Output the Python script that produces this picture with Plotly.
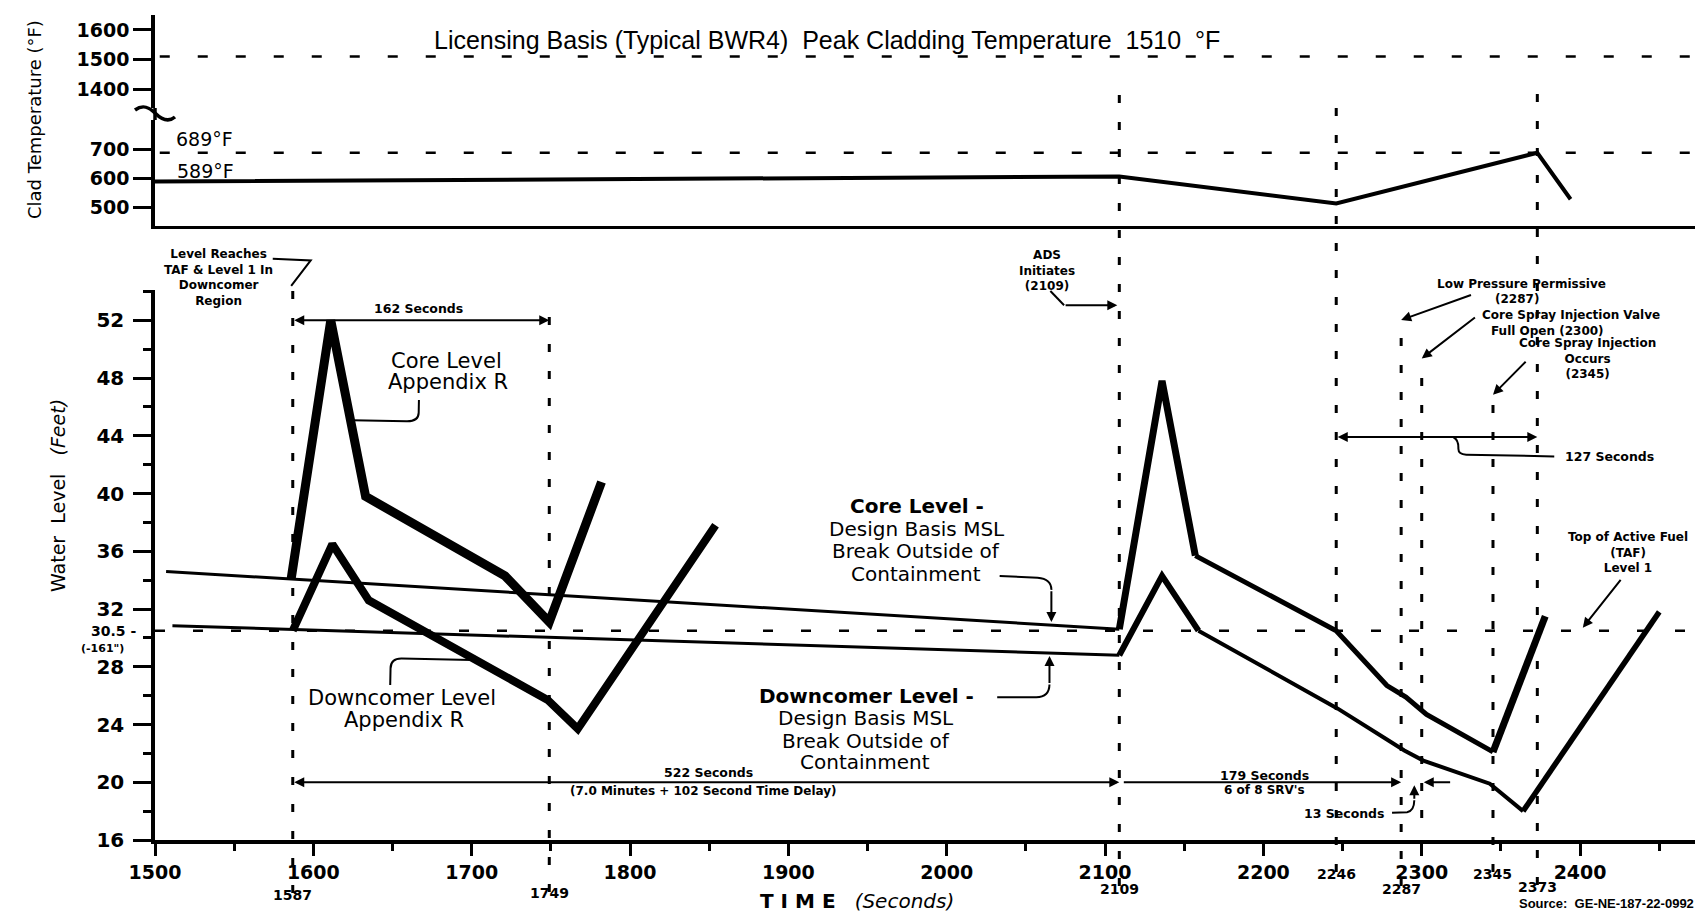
import numpy as np
import plotly.graph_objects as go

# ---------------- data ----------------
time_ticks = [1500, 1600, 1700, 1800, 1900, 2000, 2100, 2200, 2300, 2400]
level_ticks = [16, 20, 24, 28, 32, 36, 40, 44, 48, 52]
temp_ticks_low = [500, 600, 700]
temp_ticks_high = [1400, 1500, 1600]

# Water level - Appendix R (thick curves)
core_appR_t = [1586, 1611, 1633, 1721, 1749, 1782]
core_appR_v = [34.1, 52.0, 39.8, 34.3, 31.1, 40.8]
dc_appR_t = [1587, 1612, 1635, 1748, 1767, 1854]
dc_appR_v = [30.5, 36.5, 32.6, 25.7, 23.7, 37.8]

# Water level - Design Basis MSL break outside containment
core_db_t = [1507, 2109, 2136, 2157, 2246, 2278, 2290, 2303, 2345, 2378]
core_db_v = [34.6, 30.6, 47.8, 35.7, 30.5, 26.7, 25.9, 24.7, 22.1, 31.5]
dc_db_t = [1511, 2109, 2136, 2159, 2247, 2276, 2289, 2301, 2343, 2364, 2450]
dc_db_v = [30.85, 28.8, 34.3, 30.5, 25.1, 23.1, 22.2, 21.5, 19.9, 18.0, 31.8]

taf_level = 30.5

# Clad temperature (deg F)
clad_t = [1500, 1785, 2109, 2246, 2373, 2394]
clad_v = [589, 598, 606, 512, 689, 527]
pct_licensing = 1510
pct_appR = 689

event_t = [1587, 1749, 2109, 2246, 2287, 2300, 2345, 2373]

# ---------------- geometry helpers ----------------
W, H = 1703, 911
L, R, T, B = 147, 1694, 7, 832
XR = [1500, 2477]
YR = [16, 54.1]
Y_BOT_TOP = 282
TOP_LOW = (112, 218)     # pixel extent of lower part of broken temp axis
TOP_HIGH = (7, 100)      # pixel extent of upper part
Y2R = [433.8, 803.1]
Y3R = [1335.6, 1650.8]
SK = 0.02                # rotation of the scanned reference
SB, STOP = 837.0, 284.7  # reference frame: bottom axis / top of level axis


def t2px(t):
    return L + (t - XR[0]) * (R - L) / (XR[1] - XR[0])


def px2t(px):
    return XR[0] + (px - L) * (XR[1] - XR[0]) / (R - L)


def v2py(v):
    return B - (v - YR[0]) * (B - Y_BOT_TOP) / (YR[1] - YR[0])


def temp2py(v):
    return TOP_LOW[1] - (v - Y2R[0]) * (TOP_LOW[1] - TOP_LOW[0]) / (Y2R[1] - Y2R[0])


def PX(px):
    return (px - L) / (R - L)


def PY(py):
    return (B - py) / (B - T)


def D(px, py):
    """reference scan position -> position in this figure"""
    x = px + SK * (SB - py)
    y = py + SK * (px - L)
    if y > STOP:
        y = Y_BOT_TOP + (y - STOP) * (B - Y_BOT_TOP) / (SB - STOP)
    elif y > TOP_LOW[1]:
        y = TOP_LOW[1] + (y - TOP_LOW[1]) * (Y_BOT_TOP - TOP_LOW[1]) / (STOP - TOP_LOW[1])
    return x, y


SANS = "DejaVu Sans"
ann = []
shapes = []


def text(s, px, py, size=12, ds=True, xanchor="center", yanchor="middle",
         family=SANS, angle=0, align="center"):
    if ds:
        px, py = D(px, py)
    ann.append(dict(x=PX(px), y=PY(py), xref="paper", yref="paper", text=s,
                    showarrow=False, xanchor=xanchor, yanchor=yanchor,
                    textangle=angle, align=align,
                    font=dict(family=family, size=size, color="black")))


def pstr(p, ds=True):
    x, y = D(*p) if ds else p
    return f"{PX(x):.5f},{PY(y):.5f}"


def leader(cmds, width=2, ds=True):
    s = " ".join(op + " " + " ".join(pstr(p, ds) for p in pts) for op, pts in cmds)
    shapes.append(dict(type="path", path=s, xref="paper", yref="paper",
                       line=dict(color="black", width=width)))


def arrow(head, tail, both=False, width=2, size=1.0):
    hx, hy = head
    tx, ty = tail
    ann.append(dict(x=PX(hx), y=PY(hy), xref="paper", yref="paper",
                    ax=tx - hx, ay=ty - hy, axref="pixel", ayref="pixel",
                    text="", showarrow=True, arrowhead=2, arrowsize=size,
                    arrowwidth=width, arrowcolor="black", standoff=0,
                    startstandoff=0, startarrowhead=2, startarrowsize=size,
                    arrowside="end+start" if both else "end",
                    font=dict(size=1)))


# ---------------- traces ----------------
fig = go.Figure()


def add_line(x, y, width, xa="x", ya="y", dash=None):
    fig.add_trace(go.Scatter(x=x, y=y, mode="lines", xaxis=xa, yaxis=ya,
                             line=dict(color="black", width=width, dash=dash),
                             hoverinfo="skip", showlegend=False))


def add_segments(ts, vs, segs):
    for i0, i1, w in segs:
        add_line(ts[i0:i1 + 1], vs[i0:i1 + 1], w)


DASH_H = "10px,28px"
# bottom panel
add_line(XR, [taf_level, taf_level], 2.5, dash=DASH_H)
add_segments(core_db_t, core_db_v, [(0, 1, 3), (1, 3, 7), (3, 8, 5), (8, 9, 7)])
add_segments(dc_db_t, dc_db_v, [(0, 1, 3), (1, 3, 6), (3, 9, 4), (9, 10, 5.5)])
add_line(core_appR_t, core_appR_v, 9)
add_line(dc_appR_t, dc_appR_v, 8)

# top panel
add_line([1503, XR[1]], [pct_licensing, pct_licensing], 2.5, "x2", "y3", DASH_H)
add_line([1503, XR[1]], [pct_appR, pct_appR], 2.5, "x2", "y2", DASH_H)
add_line(clad_t, clad_v, 4, "x2", "y2")

# ---------------- event lines ----------------
ev_extent = {1587: (280, 885), 1749: (296, 884), 2109: (84, 878), 2246: (84, 864),
             2287: (311, 878), 2300: (351, 810), 2345: (388, 864), 2373: (84, 877)}
for t in event_t:
    top, bot = ev_extent[t]
    shapes.append(dict(type="line", xref="x", yref="paper", x0=t, x1=t,
                       y0=PY(bot), y1=PY(top),
                       line=dict(color="black", width=3, dash="8px,19px")))

ev_label_y = {1587: 897, 1749: 895, 2109: 891, 2246: 876, 2287: 891, 2345: 876, 2373: 889}
for t, y in ev_label_y.items():
    ann.append(dict(x=t, y=PY(y), xref="x", yref="paper", text=f"<b>{t}</b>",
                    showarrow=False, font=dict(family=SANS, size=14, color="black")))

# ---------------- texts & leaders (reference scan coordinates) ----------------
text("<b>Level Reaches<br>TAF & Level 1 In<br>Downcomer<br>Region</b>", 199, 271, 12)
leader([("M", [(253, 250)]), ("L", [(291, 251)]), ("L", [(272, 278)])])

text("<b>162 Seconds</b>", 400, 298, 12.5)
arrow((t2px(1749), v2py(52.0)), (t2px(1587), v2py(52.0)), both=True)

text("Core Level", 428.6, 350, 21)
text("Appendix R", 430.5, 371.7, 21)
leader([("M", [(402, 390)]), ("L", [(402, 403)]), ("Q", [(402, 411.7), (390, 411.7)]),
        ("L", [(336, 411.7)])])

text("Downcomer Level", 391.4, 690, 21)
text("Appendix R", 393, 711.7, 21)
leader([("M", [(379, 676.7)]), ("L", [(379, 660)]), ("Q", [(379, 650), (390, 650)]),
        ("L", [(460, 650)])])

for s, y in [("<b>Core Level -</b>", 487), ("Design Basis MSL", 510),
             ("Break Outside of", 532), ("Containment", 555)]:
    text(s, 902, y, 20)
leader([("M", [(986, 555)]), ("L", [(1024, 556)]), ("Q", [(1038, 557), (1038, 568)])])
tx, ty = D(1038, 568)
vh = np.interp(px2t(tx), core_db_t[:2], core_db_v[:2])
arrow((tx, v2py(vh) - 3), (tx, ty))

for s, y in [("<b>Downcomer Level -</b>", 678), ("Design Basis MSL", 700),
             ("Break Outside of", 723), ("Containment", 745)]:
    text(s, 855.5, y, 20)
leader([("M", [(986, 677)]), ("L", [(1024.5, 676)]), ("Q", [(1038, 676), (1038, 663)])])
tx, ty = D(1038, 663)
vh = np.interp(px2t(tx), dc_db_t[:2], dc_db_v[:2])
arrow((tx, v2py(vh) + 3), (tx, ty))

text("<b>ADS<br>Initiates<br>(2109)</b>", 1027, 246.5, 12)
leader([("M", [(1031, 268)]), ("L", [(1045, 282)])])
tx, ty = D(1045, 282)
arrow((t2px(2109) - 2, ty), (tx, ty))

text("<b>Low Pressure Permissive</b>", 1502, 251.7, 12)
text("<b>(2287)</b>", 1498, 266.7, 12)
arrow((t2px(2287), D(1386, 290)[1]), D(1453, 263))

text("<b>Core Spray Injection Valve</b>", 1551.6, 281.7, 12)
text("<b>Full Open (2300)</b>", 1529, 298, 12)
arrow((t2px(2300), D(1406, 328.3)[1]), D(1457.4, 285))

text("<b>Core Spray Injection<br>Occurs<br>(2345)</b>", 1569, 325, 12)
arrow((t2px(2345), D(1475.3, 363.3)[1]), D(1509, 328))

y127 = D(1430, 406.7)[1]
arrow((t2px(2373), y127), (t2px(2246), y127), both=True)
leader([("M", [(1437, 407)]), ("Q", [(1442, 409), (1442, 418)]),
        ("Q", [(1442, 424), (1450, 424)]), ("L", [(1538, 424)])])
text("<b>127 Seconds</b>", 1593, 423.3, 12.5)

text("<b>Top of Active Fuel<br>(TAF)<br>Level 1</b>", 1614, 519, 12)
hx = D(1570, 597)[0]
arrow((hx, v2py(taf_level) - 3), D(1608, 545))

text("<b>522 Seconds</b>", 699, 758, 12.5)
text("<b>(7.0 Minutes + 102 Second Time Delay)</b>", 694, 777, 12)
arrow((t2px(2109), v2py(20.0)), (t2px(1587), v2py(20.0)), both=True)
arrow((t2px(2287), v2py(20.0)), (t2px(2109) + 3, v2py(20.0)))

text("<b>179 Seconds</b>", 1255, 750, 12.5)
text("<b>6 of 8 SRV's</b>", 1255, 765, 12)

text("<b>13 Seconds</b>", 1335, 787, 12.5)
leader([("M", [(1383, 785)]), ("L", [(1398, 784)]), ("Q", [(1405, 783), (1405, 772)])])
tx, ty = D(1405, 772)
arrow((tx, v2py(20.0) + 3), (tx, ty))
tx, ty = D(1442, 755)
arrow((t2px(2300) + 2, v2py(20.0)), (tx, v2py(20.0)))

# texts in this figure's own coordinates
text("Licensing Basis (Typical BWR4)  Peak Cladding Temperature  1510  \u00b0F", 424, 32, 25,
     ds=False, xanchor="left", family="Liberation Sans")
text("689\u00b0F", 166, temp2py(pct_appR) - 1, 19, ds=False, xanchor="left", yanchor="bottom")
text("589\u00b0F", 167, temp2py(clad_v[0]) + 3, 19, ds=False, xanchor="left", yanchor="bottom")
text("<b>30.5 -</b>", 130, v2py(taf_level), 14, ds=False, xanchor="right")
text("<b>(-161\")</b>", 118, v2py(taf_level) + 18, 11, ds=False, xanchor="right")
text("Water  Level   <i>(Feet)</i>", 50, 488, 19, ds=False, angle=-90)
text("Clad Temperature (\u00b0F)", 26, 112, 18, ds=False, angle=-90)
text("<b>T I M E</b>   <i>(Seconds)</i>", 849, 893, 20, ds=False)
text("<b>Source:  GE-NE-187-22-0992</b>", 1688, 905, 13, ds=False, xanchor="right",
     yanchor="bottom", family="Liberation Sans")

# axis break marks on top panel
shapes.append(dict(type="line", xref="paper", yref="paper", x0=0, x1=0,
                   y0=PY(TOP_LOW[0]), y1=PY(TOP_HIGH[1]), line=dict(color="black", width=3.5)))
sq = [(127, 102), (135, 96), (141, 99), (147, 105), (153, 111), (160, 115), (167, 109)]
shapes.append(dict(type="path", xref="paper", yref="paper",
                   path="M {} C {} {} {} S {} {}".format(*[pstr(p, False) for p in sq[:1] + sq[1:4] + sq[5:7]]),
                   line=dict(color="black", width=3.5)))

# ---------------- layout ----------------
tickfont = dict(family=SANS, size=19, color="black", weight="bold")
common = dict(showgrid=False, zeroline=False, showline=True, linecolor="black",
              linewidth=3.5, ticks="outside", tickcolor="black", tickwidth=3)

fig.update_layout(
    width=W, height=H, margin=dict(l=L, r=W - R, t=T, b=H - B),
    paper_bgcolor="white", plot_bgcolor="white", showlegend=False,
    annotations=ann, shapes=shapes,
    xaxis=dict(**common, domain=[0, 1], range=XR, anchor="y", tickmode="linear",
               tick0=time_ticks[0], dtick=time_ticks[1] - time_ticks[0], ticklen=12,
               tickfont=tickfont,
               minor=dict(ticks="outside", tick0=time_ticks[0],
                          dtick=(time_ticks[1] - time_ticks[0]) / 2,
                          ticklen=7, tickwidth=3, tickcolor="black")),
    yaxis=dict(**common, domain=[0, PY(Y_BOT_TOP)], range=YR, anchor="x", tickmode="linear",
               tick0=level_ticks[0], dtick=level_ticks[1] - level_ticks[0], ticklen=18,
               ticklabelstandoff=5, tickfont=dict(family=SANS, size=20, color="black", weight="bold"),
               minor=dict(ticks="outside", tick0=level_ticks[0],
                          dtick=(level_ticks[1] - level_ticks[0]) / 2,
                          ticklen=8, tickwidth=3, tickcolor="black")),
    xaxis2=dict(showgrid=False, zeroline=False, showline=True, linecolor="black",
                linewidth=3, matches="x", anchor="y2", domain=[0, 1],
                ticks="", showticklabels=False),
    yaxis2=dict(**common, domain=[PY(TOP_LOW[1]), PY(TOP_LOW[0])], range=Y2R, anchor="x2",
                tickmode="array", tickvals=temp_ticks_low, ticklen=18,
                tickfont=dict(family=SANS, size=19, color="black", weight="bold")),
    yaxis3=dict(**common, domain=[PY(TOP_HIGH[1]), PY(TOP_HIGH[0])], range=Y3R, anchor="x2",
                tickmode="array", tickvals=temp_ticks_high, ticklen=18,
                tickfont=dict(family=SANS, size=19, color="black", weight="bold")),
)

fig.write_html("out.html")
